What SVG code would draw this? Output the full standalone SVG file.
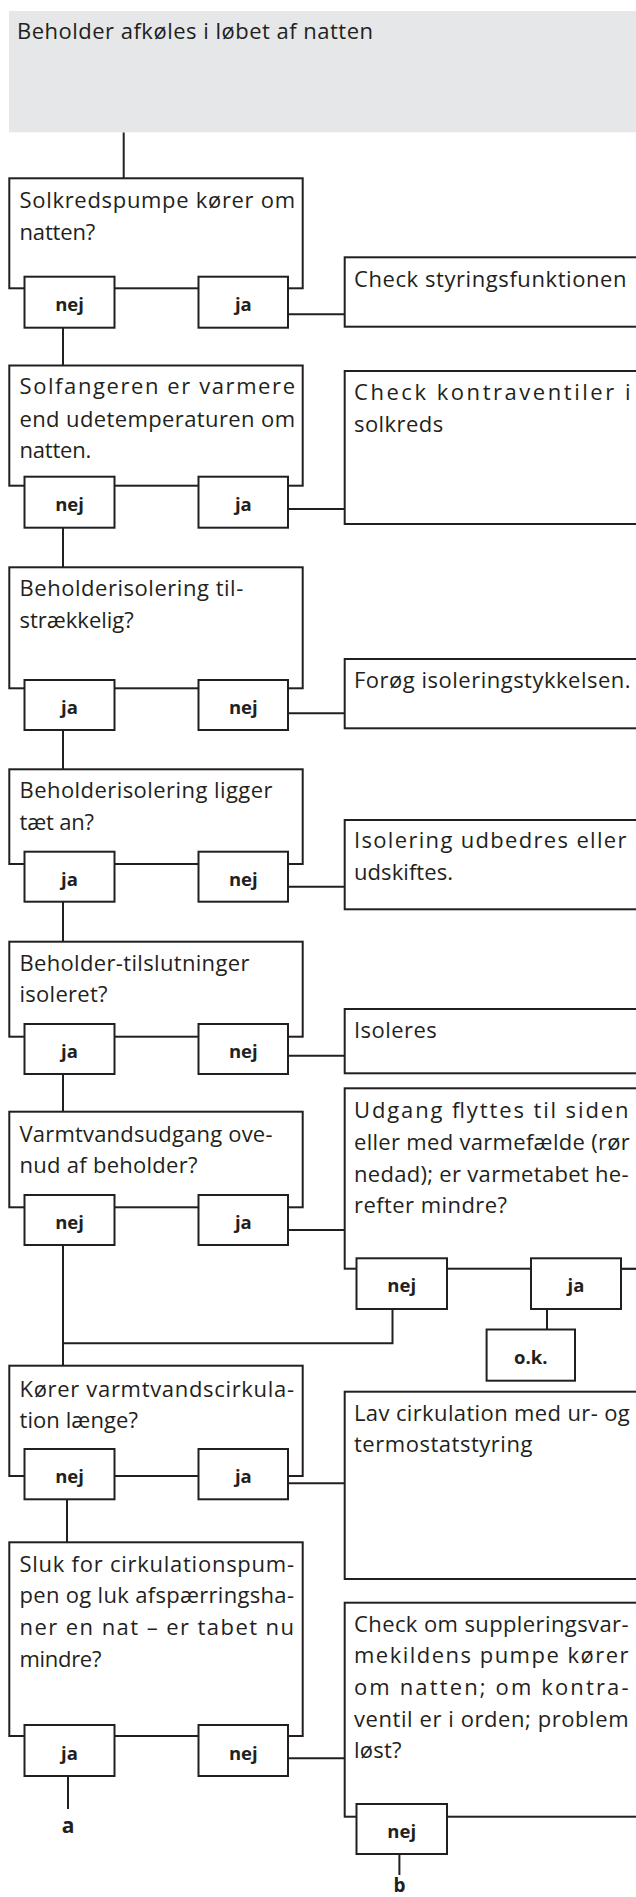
<svg xmlns="http://www.w3.org/2000/svg" width="636" height="1897" viewBox="0 0 636 1897">
<style>
.box{fill:#fff;stroke:#231f20;stroke-width:2}
.hdr{fill:#e6e7e8}
.t{font-family:"Open Sans","Liberation Sans",sans-serif;font-size:22px;fill:#231f20}
.b{font-family:"Open Sans","Liberation Sans",sans-serif;font-size:18.5px;font-weight:bold;text-anchor:middle;fill:#231f20}
.c{stroke:#231f20;stroke-width:2;fill:none}
</style>
<rect width="636" height="1897" fill="#fff"/>

<g id="connectors">
<path class="c" d="M123.7 132.3V178.3"/>
<path class="c" d="M63 327.7V365.5"/>
<path class="c" d="M63 527.7V567.3"/>
<path class="c" d="M63 730V769.3"/>
<path class="c" d="M63 901.7V941.7"/>
<path class="c" d="M63 1074V1111.7"/>
<path class="c" d="M63 1245V1365.7"/>
<path class="c" d="M392.5 1309V1343.3H63"/>
<path class="c" d="M547 1309V1329.5"/>
<path class="c" d="M67 1499.3V1542.3"/>
<path class="c" d="M68 1776V1809"/>
<path class="c" d="M399.4 1854V1875"/>
<path class="c" d="M288 314.3H344.7"/>
<path class="c" d="M288 509H344.7"/>
<path class="c" d="M288 713.3H344.7"/>
<path class="c" d="M288 886.7H344.7"/>
<path class="c" d="M288 1055.7H344.7"/>
<path class="c" d="M288 1230H344.7"/>
<path class="c" d="M288 1483.3H344.7"/>
<path class="c" d="M288 1758.3H344.7"/>
<path class="c" d="M621 1268.7H640"/>
</g>

<g id="start">
<rect class="hdr" x="9" y="11" width="640" height="121.3"/>
<text class="t" x="17" y="38.5" textLength="356">Beholder afkøles i løbet af natten</text>
</g>

<g id="q1">
<rect class="box" x="9.3" y="178.3" width="293.4" height="110"/>
<text class="t" x="19.5" y="208.3" textLength="275.5">Solkredspumpe kører om</text>
<text class="t" x="19.5" y="240" textLength="75.8">natten?</text>
<rect class="box" x="24.5" y="276.7" width="90" height="51"/>
<text class="b" x="69.5" y="310.7">nej</text>
<rect class="box" x="198.5" y="276.7" width="89.5" height="51"/>
<text class="b" x="243.3" y="310.7">ja</text>
</g>
<g id="a1">
<rect class="box" x="344.7" y="257.3" width="300" height="69.4"/>
<text class="t" x="354" y="286.7" textLength="272.5">Check styringsfunktionen</text>
</g>

<g id="q2">
<rect class="box" x="9.3" y="365.5" width="293.4" height="120.2"/>
<text class="t" x="19.5" y="394.3" textLength="275.5">Solfangeren er varmere</text>
<text class="t" x="19.5" y="426.7" textLength="275.5">end udetemperaturen om</text>
<text class="t" x="19.5" y="458.3" textLength="71.7">natten.</text>
<rect class="box" x="24.5" y="476.7" width="90" height="51"/>
<text class="b" x="69.5" y="510.7">nej</text>
<rect class="box" x="198.5" y="476.7" width="89.5" height="51"/>
<text class="b" x="243.3" y="510.7">ja</text>
</g>
<g id="a2">
<rect class="box" x="344.7" y="371" width="300" height="153"/>
<text class="t" x="354" y="400" textLength="276.6">Check kontraventiler i</text>
<text class="t" x="354" y="431.7" textLength="89.2">solkreds</text>
</g>

<g id="q3">
<rect class="box" x="9.3" y="567.3" width="293.4" height="121"/>
<text class="t" x="19.5" y="596" textLength="223.8">Beholderisolering til-</text>
<text class="t" x="19.5" y="628.3" textLength="114.3">strækkelig?</text>
<rect class="box" x="24.5" y="680" width="90" height="50"/>
<text class="b" x="69.5" y="714">ja</text>
<rect class="box" x="198.5" y="680" width="89.5" height="50"/>
<text class="b" x="243.3" y="714">nej</text>
</g>
<g id="a3">
<rect class="box" x="344.7" y="659" width="300" height="69.3"/>
<text class="t" x="354" y="688.3" textLength="276.6">Forøg isoleringstykkelsen.</text>
</g>

<g id="q4">
<rect class="box" x="9.3" y="769.3" width="293.4" height="94.7"/>
<text class="t" x="19.5" y="798.3" textLength="253">Beholderisolering ligger</text>
<text class="t" x="19.5" y="830" textLength="74.5">tæt an?</text>
<rect class="box" x="24.5" y="851.7" width="90" height="50"/>
<text class="b" x="69.5" y="885.7">ja</text>
<rect class="box" x="198.5" y="851.7" width="89.5" height="50"/>
<text class="b" x="243.3" y="885.7">nej</text>
</g>
<g id="a4">
<rect class="box" x="344.7" y="820" width="300" height="89.3"/>
<text class="t" x="354" y="848.3" textLength="272.5">Isolering udbedres eller</text>
<text class="t" x="354" y="880" textLength="99">udskiftes.</text>
</g>

<g id="q5">
<rect class="box" x="9.3" y="941.7" width="293.4" height="95"/>
<text class="t" x="19.5" y="970.7" textLength="229.9">Beholder-tilslutninger</text>
<text class="t" x="19.5" y="1001.7" textLength="88">isoleret?</text>
<rect class="box" x="24.5" y="1024" width="90" height="50"/>
<text class="b" x="69.5" y="1058">ja</text>
<rect class="box" x="198.5" y="1024" width="89.5" height="50"/>
<text class="b" x="243.3" y="1058">nej</text>
</g>
<g id="a5">
<rect class="box" x="344.7" y="1009" width="300" height="64.3"/>
<text class="t" x="354" y="1037.7" textLength="82.7">Isoleres</text>
</g>

<g id="q6">
<rect class="box" x="9.3" y="1111.7" width="293.4" height="95.6"/>
<text class="t" x="19.5" y="1142.3" textLength="253">Varmtvandsudgang ove-</text>
<text class="t" x="19.5" y="1173.3" textLength="178">nud af beholder?</text>
<rect class="box" x="24.5" y="1195" width="90" height="50"/>
<text class="b" x="69.5" y="1229">nej</text>
<rect class="box" x="198.5" y="1195" width="89.5" height="50"/>
<text class="b" x="243.3" y="1229">ja</text>
</g>
<g id="a6">
<rect class="box" x="344.7" y="1088.3" width="300" height="180.4"/>
<text class="t" x="354" y="1118.3" textLength="274.5">Udgang flyttes til siden</text>
<text class="t" x="354" y="1150" textLength="275.8">eller med varmefælde (rør</text>
<text class="t" x="354" y="1181.7" textLength="274.5">nedad); er varmetabet he-</text>
<text class="t" x="354" y="1213.3" textLength="153">refter mindre?</text>
<rect class="box" x="356.5" y="1258.3" width="90.5" height="50.7"/>
<text class="b" x="401.7" y="1292">nej</text>
<rect class="box" x="531" y="1258.3" width="90" height="50.7"/>
<text class="b" x="576" y="1292">ja</text>
</g>
<g id="ok">
<rect class="box" x="486.6" y="1329.5" width="88.4" height="51.2"/>
<text class="b" x="530.8" y="1363.5">o.k.</text>
</g>

<g id="q7">
<rect class="box" x="9.3" y="1365.7" width="293.4" height="110.3"/>
<text class="t" x="19.5" y="1396.7" textLength="274.5">Kører varmtvandscirkula-</text>
<text class="t" x="19.5" y="1428.3" textLength="118.4">tion længe?</text>
<rect class="box" x="24.5" y="1449" width="90" height="50.3"/>
<text class="b" x="69.5" y="1483">nej</text>
<rect class="box" x="198.5" y="1449" width="89.5" height="50.3"/>
<text class="b" x="243.3" y="1483">ja</text>
</g>
<g id="a7">
<rect class="box" x="344.7" y="1391.7" width="300" height="187.3"/>
<text class="t" x="354" y="1420.7" textLength="275.8">Lav cirkulation med ur- og</text>
<text class="t" x="354" y="1451.7" textLength="178.4">termostatstyring</text>
</g>

<g id="q8">
<rect class="box" x="9.3" y="1542.3" width="293.4" height="193.7"/>
<text class="t" x="19.5" y="1571.7" textLength="274.5">Sluk for cirkulationspum-</text>
<text class="t" x="19.5" y="1603.3" textLength="274.5">pen og luk afspærringsha-</text>
<text class="t" x="19.5" y="1635" textLength="274.5">ner en nat – er tabet nu</text>
<text class="t" x="19.5" y="1666.7" textLength="81.9">mindre?</text>
<rect class="box" x="24.5" y="1725" width="90" height="51"/>
<text class="b" x="69.5" y="1759.5">ja</text>
<rect class="box" x="198.5" y="1725" width="89.5" height="51"/>
<text class="b" x="243.3" y="1759.5">nej</text>
</g>
<g id="a8">
<rect class="box" x="344.7" y="1602.7" width="300" height="214"/>
<text class="t" x="354" y="1631.7" textLength="274.5">Check om suppleringsvar-</text>
<text class="t" x="354" y="1663.3" textLength="274.5">mekildens pumpe kører</text>
<text class="t" x="354" y="1695" textLength="274.5">om natten; om kontra-</text>
<text class="t" x="354" y="1726.7" textLength="274.5">ventil er i orden; problem</text>
<text class="t" x="354" y="1758.3" textLength="47.5">løst?</text>
<rect class="box" x="356.5" y="1804" width="90.5" height="50"/>
<text class="b" x="401.7" y="1837.5">nej</text>
</g>

<g id="end-a">
<text class="b" x="68" y="1832.7" style="font-size:21px">a</text>
</g>
<g id="end-b">
<text class="b" x="399.4" y="1892" style="font-size:19px">b</text>
</g>
</svg>
